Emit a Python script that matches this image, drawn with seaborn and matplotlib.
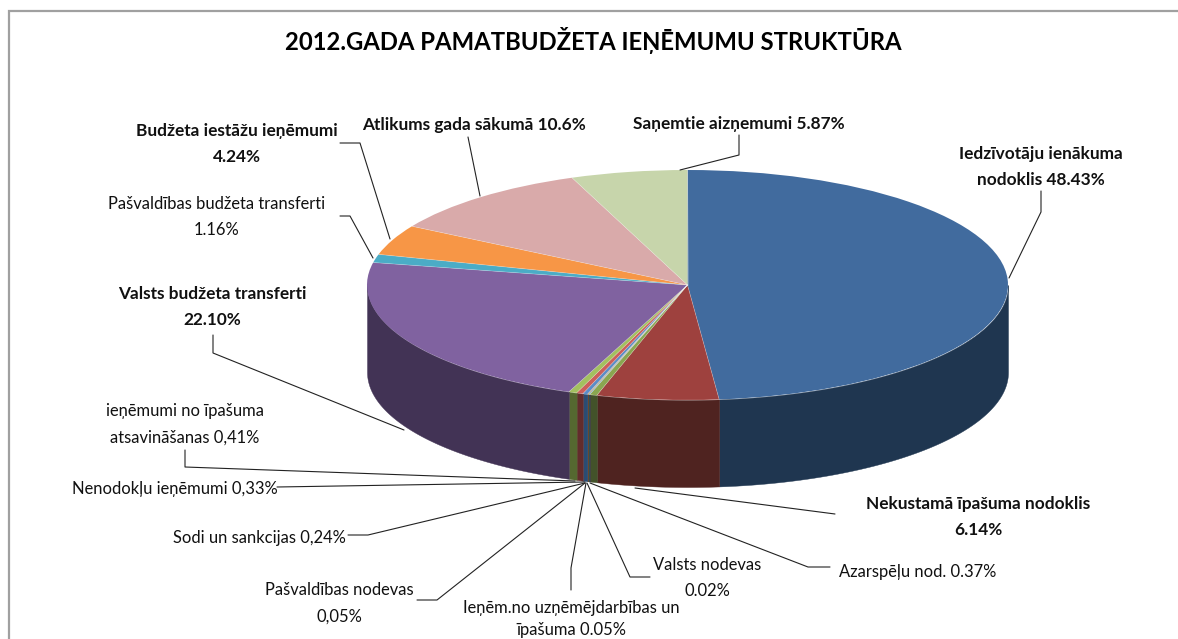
import numpy as np
import seaborn as sns
import matplotlib.pyplot as plt

# datu sadalījums, % (pulksteņrādītāja virzienā no augšas)
slice_names = ["Iedzīvotāju ienākuma nodoklis", "Nekustamā īpašuma nodoklis", "Azarspēļu nod.", "Valsts nodevas",
               "Ieņēm.no uzņēmējdarbības un īpašuma", "Pašvaldības nodevas", "Sodi un sankcijas",
               "Nenodokļu ieņēmumi", "ieņēmumi no īpašuma atsavināšanas", "Valsts budžeta transferti",
               "Pašvaldības budžeta transferti", "Budžeta iestāžu ieņēmumi", "Atlikums gada sākumā",
               "Saņemtie aizņēmumi"]
slice_values = [48.43, 6.14, 0.37, 0.02, 0.05, 0.05, 0.24, 0.33, 0.41, 22.10, 1.16, 4.24, 10.6, 5.87]
top_colors = ["#416B9E", "#9E413E", "#8AA650", "#6F5790", "#3D97AE", "#DE8235",
              "#5B8CC8", "#CB5E5A", "#A3C05F", "#8062A0", "#4BACC6", "#F79646", "#D9AAAA", "#C7D5AB"]
side_colors = ["#1F3650", "#4F2320", "#43522A", "#382B48", "#1E4C57", "#6F411B",
               "#2B4C73", "#632C2C", "#556830", "#423355", "#25565F", "#7C4B23", "#6D5555", "#646A55"]

title_text = "2012.GADA PAMATBUDŽETA IEŅĒMUMU STRUKTŪRA"
label_texts = ["Iedzīvotāju ienākuma\nnodoklis 48.43%", "Saņemtie aizņemumi 5.87%", "Atlikums gada sākumā 10.6%",
               "Budžeta iestāžu ieņēmumi\n4.24%", "Pašvaldības budžeta transferti\n1.16%",
               "Valsts budžeta transferti\n22.10%", "ieņēmumi no īpašuma\natsavināšanas 0,41%",
               "Nenodokļu ieņēmumi 0,33%", "Sodi un sankcijas 0,24%", "Pašvaldības nodevas\n0,05%",
               "Ieņēm.no uzņēmējdarbības un\nīpašuma 0.05%", "Valsts nodevas\n0.02%", "Azarspēļu nod. 0.37%",
               "Nekustamā īpašuma nodoklis\n6.14%"]
label_bold = [True, True, True, True, False, True, False, False, False, False, False, False, False, True]

# izkārtojums pikseļos
W, H = 1178, 639
label_pos = [(1041, 167), (739, 124), (474, 125), (237, 144), (217, 217), (212, 307), (185, 424),
             (175, 489), (259, 538), (339, 603), (571, 619), (707, 578), (918, 572), (978, 517)]
label_spacing = [1.8] * 10 + [1.45] + [1.8] * 3
leaders = [[(1009, 278), (1041, 212), (1041, 191)],
           [(680, 170), (739, 155), (739, 135)],
           [(480, 196), (468, 137)],
           [(390, 239), (360, 143), (340, 143)],
           [(373, 258), (350, 216), (340, 216)],
           [(404, 430), (213, 353), (213, 335)],
           [(575, 481), (185, 467), (185, 450)],
           [(277, 487), (585, 482)],
           [(348, 535), (368, 535), (585, 483)],
           [(417, 600), (437, 600), (585, 483)],
           [(571, 590), (571, 568), (586, 483)],
           [(650, 577), (630, 577), (587, 483)],
           [(830, 567), (808, 567), (590, 483)],
           [(835, 514), (635, 488)]]

sns.set_theme(style="white")
plt.rcParams["font.family"] = ["Lato", "DejaVu Sans"]

fig = plt.figure(figsize=(W / 100, H / 100), dpi=100, facecolor="white")

# pikseļu slānis tekstam un līnijām
overlay = fig.add_axes([0, 0, 1, 1], zorder=3)
overlay.set_xlim(0, W)
overlay.set_ylim(H, 0)
overlay.axis("off")
overlay.patch.set_alpha(0)

# augšējā elipse: 367..1008 x 170..400
left, right, top, bottom = 367, 1008, 170, 400
ax = fig.add_axes([left / W, 1 - bottom / H, (right - left) / W, (bottom - top) / H], zorder=1)
depth = 87 / ((bottom - top) / 2)

wedges, _ = ax.pie(slice_values, colors=top_colors, startangle=90, counterclock=False, radius=1,
                   wedgeprops={"linewidth": 0, "zorder": 3})
ax.set_aspect("auto")
ax.set_xlim(-1, 1)
ax.set_ylim(-1, 1)

# sānu siena - tikai priekšējā puse
shares = np.array(slice_values) / sum(slice_values)
ends = 90 - np.cumsum(shares) * 360
starts = np.concatenate([[90], ends[:-1]])
for a0, a1, col in zip(starts, ends, side_colors):
    for lo, hi in [(-180, 0), (-540, -360)]:
        t0, t1 = min(a0, hi), max(a1, lo)
        if t0 <= t1:
            continue
        t = np.radians(np.linspace(t0, t1, 80))
        ax.fill_between(np.cos(t), np.sin(t), np.sin(t) - depth, color=col, lw=0.3, clip_on=False, zorder=1)

# rādiusu līnijas starp daļām
for a in ends:
    r = np.radians(a)
    ax.plot([0, np.cos(r)], [0, np.sin(r)], color="#FFFFFF", alpha=0.3, lw=0.5, zorder=4)

# rāmis
overlay.plot([9, 9, W], [H, 11, 11], color="#A0A0A0", lw=1.6, solid_joinstyle="miter")

overlay.text(593, 40, title_text, ha="center", va="center", fontsize=17.2, fontweight="bold", color="black")

for txt, pos, is_bold, sp in zip(label_texts, label_pos, label_bold, label_spacing):
    overlay.text(pos[0], pos[1], txt, ha="center", va="center", fontsize=12.4 if is_bold else 11.9,
                 linespacing=sp, fontweight="bold" if is_bold else "normal", color="#111111")

for pts in leaders:
    xs, ys = zip(*pts)
    overlay.plot(xs, ys, color="#222222", lw=0.8)

fig.savefig("out.png", dpi=100)
